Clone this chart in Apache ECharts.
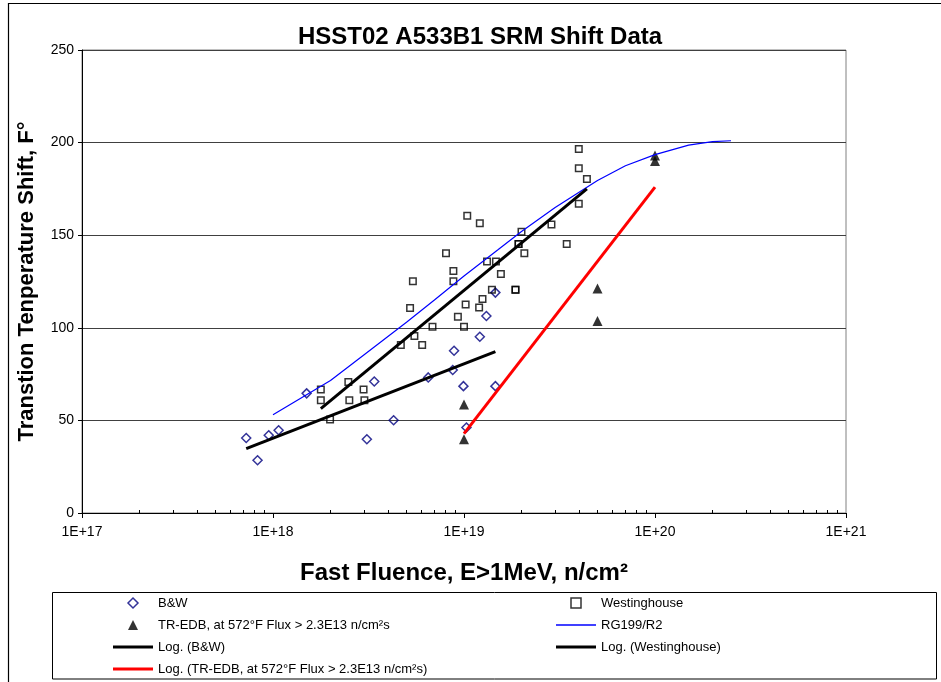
<!DOCTYPE html>
<html>
<head>
<meta charset="utf-8">
<script src="https://cdn.jsdelivr.net/npm/echarts@6/dist/echarts.min.js"></script>
<style>
  html, body { margin: 0; padding: 0; background: #fff; }
  #chart { width: 941px; height: 682px; }
</style>
</head>
<body>
<div id="chart"></div>
<script>
const FONT = '"Liberation Sans", Arial, Helvetica, sans-serif';

// B&W surveillance data: fast fluence (n/cm²) and transition temperature shift (°F)
const bwFluence = [7.24e17, 8.3e17, 9.5e17, 1.07e18, 1.5e18, 3.39e18, 3.1e18, 4.28e18, 6.5e18,
                   8.87e18, 8.73e18, 1.21e19, 9.93e18, 1.46e19, 1.03e19, 1.46e19, 1.31e19];
const bwShift    = [40.5, 28.5, 42, 44.7, 64.6, 71, 39.8, 50.1, 73.2,
                   87.6, 77.2, 95.2, 68.5, 68.5, 46.2, 119, 106.4];

// Westinghouse surveillance data
const whFluence = [1.78e18, 1.78e18, 1.99e18, 2.48e18, 2.51e18, 2.98e18, 3.01e18, 4.67e18, 5.5e18,
                   6.04e18, 6.84e18, 1.0e19, 9.29e18, 1.02e19, 1.04e19, 8.05e18, 8.8e18, 8.8e18,
                   5.4e18, 5.22e18, 1.21e19, 1.25e19, 1.2e19, 1.32e19, 1.47e19, 1.56e19, 1.4e19,
                   1.86e19, 1.86e19, 2.0e19, 1.93e19, 1.93e19, 2.07e19, 2.87e19, 3.45e19, 3.99e19,
                   3.99e19, 4.4e19, 3.99e19];
const whShift    = [66.7, 60.9, 50.5, 70.7, 60.9, 66.7, 60.9, 90.7, 95.6,
                   90.7, 100.6, 100.6, 106, 112.6, 160.5, 140.3, 130.7, 125.2,
                   125.2, 110.7, 156.5, 115.6, 110.9, 135.8, 135.8, 129.1, 120.5,
                   120.5, 120.5, 151.8, 145.2, 145.2, 140.3, 155.8, 145.2, 196.6,
                   186.1, 180.4, 167];

// TR-EDB data, 572°F, flux > 2.3E13 n/cm²s
const edbFluence = [1.0e19, 1.0e19, 5.0e19, 5.0e19, 1.0e20, 1.0e20];
const edbShift   = [58.6, 39.8, 121.2, 103.7, 193, 190];

// RG1.99 Rev.2 prediction curve
const rgFluence = [1e18, 2e18, 3e18, 5e18, 7e18, 1e19, 1.5e19, 2e19, 3e19, 5e19, 7e19,
                   1e20, 1.5e20, 2e20, 2.5e20];
const rgShift   = [53, 71.5, 85.5, 103, 115, 128, 142, 152, 165, 179.5, 187.5,
                   193.5, 198.6, 200.5, 201];

// Logarithmic trend lines (end points over each data range)
const trendBwFluence  = [7.24e17, 1.46e19];
const trendBwShift    = [34.8, 87.1];
const trendWhFluence  = [1.78e18, 4.4e19];
const trendWhShift    = [56.4, 175];
const trendEdbFluence = [1.0e19, 1.0e20];
const trendEdbShift   = [42.9, 176];

// Axis ticks
const xDecades = [1e17, 1e18, 1e19, 1e20, 1e21];
const xDecadeLabels = ['1E+17', '1E+18', '1E+19', '1E+20', '1E+21'];
const yTicks = [0, 50, 100, 150, 200, 250];

const NAME_BW = 'B&W';
const NAME_WH = 'Westinghouse';
const NAME_EDB = 'TR-EDB, at 572°F Flux > 2.3E13 n/cm²s';
const NAME_RG = 'RG199/R2';
const NAME_TBW = 'Log. (B&W)';
const NAME_TWH = 'Log. (Westinghouse)';
const NAME_TEDB = 'Log. (TR-EDB, at 572°F Flux > 2.3E13 n/cm²s)';

const zip = (xs, ys) => xs.map((x, i) => [x, ys[i]]);

// minor ticks at 2..9 within each decade
const minorTicks = [];
for (let d = 0; d < xDecades.length - 1; d++) {
  for (let k = 2; k <= 9; k++) minorTicks.push(k * xDecades[d]);
}

// legend swatch for line series: a plain bar, thick or thin
const BAR_THICK = 'path://M0,0L40,0L40,3L0,3Z';
const BAR_THIN = 'path://M0,0L40,0L40,1.5L0,1.5Z';

const chart = echarts.init(document.getElementById('chart'), null, { renderer: 'canvas' });

const legendText = { fontFamily: FONT, fontSize: 13, lineHeight: 14, color: '#000' };

chart.setOption({
  animation: false,
  backgroundColor: '#fff',
  textStyle: { fontFamily: FONT },
  title: {
    text: 'HSST02 A533B1 SRM Shift Data',
    left: 298,
    top: 25,
    padding: 0,
    textStyle: { fontFamily: FONT, fontSize: 24, fontWeight: 'bold', color: '#000' }
  },
  grid: {
    left: 82, right: 95, top: 50, bottom: 169,
    show: true, borderColor: '#808080', borderWidth: 1, backgroundColor: '#fff'
  },
  xAxis: [{
    type: 'log',
    logBase: 10,
    min: xDecades[0],
    max: xDecades[xDecades.length - 1],
    name: 'Fast Fluence, E>1MeV, n/cm²',
    nameLocation: 'middle',
    nameGap: 48,
    nameTextStyle: { fontFamily: FONT, fontSize: 24, fontWeight: 'bold', color: '#000' },
    axisLine: { lineStyle: { color: '#000', width: 1 } },
    axisTick: { length: 5, lineStyle: { color: '#000' } },
    axisLabel: {
      fontFamily: FONT, fontSize: 14, color: '#000', margin: 12,
      formatter: v => {
        const i = xDecades.findIndex(d => Math.abs(Math.log10(d) - Math.log10(v)) < 1e-6);
        return i >= 0 ? xDecadeLabels[i] : '';
      }
    },
    splitLine: { show: false }
  }, {
    type: 'log',
    logBase: 10,
    min: xDecades[0],
    max: xDecades[xDecades.length - 1],
    position: 'bottom',
    axisLine: { show: false },
    axisLabel: { show: false },
    axisTick: { show: true, inside: true, length: 3, customValues: minorTicks, lineStyle: { color: '#000' } },
    splitLine: { show: false }
  }],
  yAxis: {
    type: 'value',
    min: yTicks[0],
    max: yTicks[yTicks.length - 1],
    interval: 50,
    name: 'Transtion Tenperature Shift, F°',
    nameLocation: 'middle',
    nameGap: 44,
    nameTextStyle: { fontFamily: FONT, fontSize: 22, fontWeight: 'bold', color: '#000' },
    axisLine: { show: true, lineStyle: { color: '#000', width: 1 } },
    axisTick: { show: true, length: 4, lineStyle: { color: '#000' } },
    axisLabel: { fontFamily: FONT, fontSize: 14, color: '#000', margin: 8 },
    splitLine: { show: true, lineStyle: { color: '#404040', width: 1 } }
  },
  legend: [{
    left: 113, top: 596, orient: 'vertical', padding: 0,
    itemWidth: 40, itemHeight: 10, itemGap: 8, selectedMode: false,
    textStyle: legendText,
    data: [
      { name: NAME_BW, icon: 'path://M0,-1L1,0L0,1L-1,0Z',
        itemStyle: { color: 'rgba(0,0,0,0)', borderColor: '#000080', borderWidth: 1.5 } },
      { name: NAME_EDB, icon: 'path://M0,-1L1,1L-1,1Z', itemStyle: { color: '#000', borderWidth: 0 } },
      { name: NAME_TBW, icon: BAR_THICK, itemStyle: { color: '#000', borderWidth: 0 } },
      { name: NAME_TEDB, icon: BAR_THICK, itemStyle: { color: '#ff0000', borderWidth: 0 } }
    ]
  }, {
    left: 556, top: 596, orient: 'vertical', padding: 0,
    itemWidth: 40, itemHeight: 10, itemGap: 8, selectedMode: false,
    textStyle: legendText,
    data: [
      { name: NAME_WH, icon: 'path://M0,0L1,0L1,1L0,1Z',
        itemStyle: { color: 'rgba(0,0,0,0)', borderColor: '#000', borderWidth: 1.5 } },
      { name: NAME_RG, icon: BAR_THIN, itemStyle: { color: '#0000ff', borderWidth: 0 } },
      { name: NAME_TWH, icon: BAR_THICK, itemStyle: { color: '#000', borderWidth: 0 } }
    ]
  }],
  graphic: [
    { type: 'rect', silent: true, z: -1,
      shape: { x: 8.5, y: 3.5, width: 1000, height: 1000 },
      style: { fill: 'none', stroke: '#000', lineWidth: 1.2 } },
    { type: 'rect', silent: true, z: -1,
      shape: { x: 52.5, y: 592.5, width: 884, height: 86.5 },
      style: { fill: 'none', stroke: '#000', lineWidth: 1 } }
  ],
  series: [
    { name: NAME_BW, type: 'scatter', data: zip(bwFluence, bwShift),
      symbol: 'diamond', symbolSize: 9,
      itemStyle: { color: 'rgba(0,0,0,0)', borderColor: '#000080', borderWidth: 1.5 } },
    { name: NAME_WH, type: 'scatter', data: zip(whFluence, whShift),
      symbol: 'rect', symbolSize: 6.5,
      itemStyle: { color: 'rgba(0,0,0,0)', borderColor: '#000', borderWidth: 1.5 } },
    { name: NAME_EDB, type: 'scatter', data: zip(edbFluence, edbShift),
      symbol: 'triangle', symbolSize: 10,
      itemStyle: { color: '#000' } },
    { name: NAME_RG, type: 'line', data: zip(rgFluence, rgShift),
      symbol: 'none', lineStyle: { color: '#0000ff', width: 1.2 } },
    { name: NAME_TBW, type: 'line', data: zip(trendBwFluence, trendBwShift),
      symbol: 'none', lineStyle: { color: '#000', width: 3 } },
    { name: NAME_TWH, type: 'line', data: zip(trendWhFluence, trendWhShift),
      symbol: 'none', lineStyle: { color: '#000', width: 3 } },
    { name: NAME_TEDB, type: 'line', data: zip(trendEdbFluence, trendEdbShift),
      symbol: 'none', lineStyle: { color: '#ff0000', width: 3 } }
  ]
});
</script>
</body>
</html>
